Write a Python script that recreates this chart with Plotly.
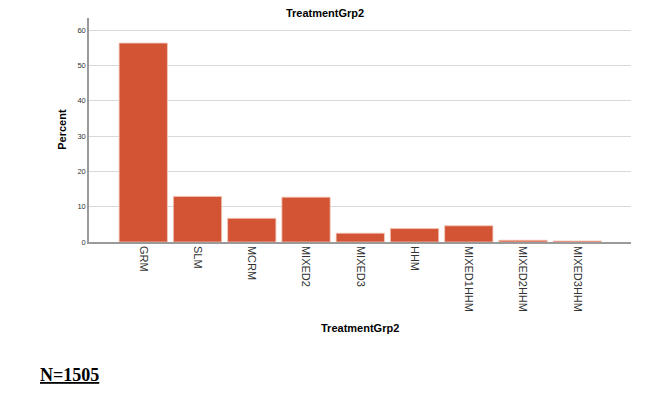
import plotly.graph_objects as go

categories = ["GRM", "SLM", "MCRM", "MIXED2", "MIXED3", "HHM", "MIXED1HHM", "MIXED2HHM", "MIXED3HHM"]
percent = [56.3, 12.9, 6.7, 12.7, 2.5, 3.8, 4.6, 0.5, 0.3]
y_ticks = [0, 10, 20, 30, 40, 50, 60]

bar_color = "#D35435"

# page body has an 8px margin; figure coordinates are page coordinates minus 8
W, H = 642, 386
plot_top, plot_bottom = 10, 234.5

fig = go.Figure()
fig.add_trace(go.Bar(
    x=list(range(len(categories))),
    y=percent,
    width=0.89,
    marker=dict(color=bar_color, line=dict(color="#F2C6B8", width=0.8)),
    hoverinfo="skip",
))

fig.update_layout(
    width=W, height=H,
    margin=dict(l=81.3, r=19, t=plot_top, b=H - plot_bottom),
    paper_bgcolor="white", plot_bgcolor="white",
    showlegend=False,
    font=dict(family="Liberation Sans, Arial, sans-serif", color="#333333"),
    title=dict(text="<b>TreatmentGrp2</b>", x=(325 - 8) / W, xanchor="center",
               y=1 - 1 / H, yanchor="top",
               font=dict(size=11, color="black", family="Liberation Sans, Arial, sans-serif")),
    xaxis=dict(
        range=[-1.0, 8.99],
        tickmode="array",
        tickvals=list(range(len(categories))),
        ticktext=categories,
        tickangle=90,
        tickfont=dict(size=11, color="#333333"),
        showgrid=False, zeroline=False,
        showline=True, linecolor="#9A9A9A", linewidth=1.5,
        ticks="",
    ),
    yaxis=dict(
        range=[0, 63.4],
        tickmode="array",
        tickvals=y_ticks,
        ticktext=[str(v) for v in y_ticks],
        tickfont=dict(size=7.5, color="#333333"),
        showgrid=True, gridcolor="#D9D9D9", gridwidth=1,
        zeroline=False,
        showline=True, linecolor="#9A9A9A", linewidth=1.5,
        ticks="",
    ),
    annotations=[
        dict(text="<b>Percent</b>", xref="paper", yref="paper",
             x=0, y=(242.5 - 130) / (242.5 - 18), xshift=-27, xanchor="center", yanchor="middle",
             textangle=-90, showarrow=False,
             font=dict(size=11, color="black", family="Liberation Sans, Arial, sans-serif")),
        dict(text="<b>TreatmentGrp2</b>", xref="paper", yref="paper",
             x=0.5, y=0, yshift=-(328 - 242.5), xanchor="center", yanchor="middle",
             showarrow=False,
             font=dict(size=11, color="black", family="Liberation Sans, Arial, sans-serif")),
        dict(text="<b><u>N=1505</u></b>", xref="paper", yref="paper",
             x=0, y=0, xshift=-51.3, yshift=-(375 - 242.5), xanchor="left", yanchor="middle",
             showarrow=False,
             font=dict(size=18, color="black", family="Liberation Serif, Times New Roman, serif")),
    ],
)

fig.write_html("out.html")
